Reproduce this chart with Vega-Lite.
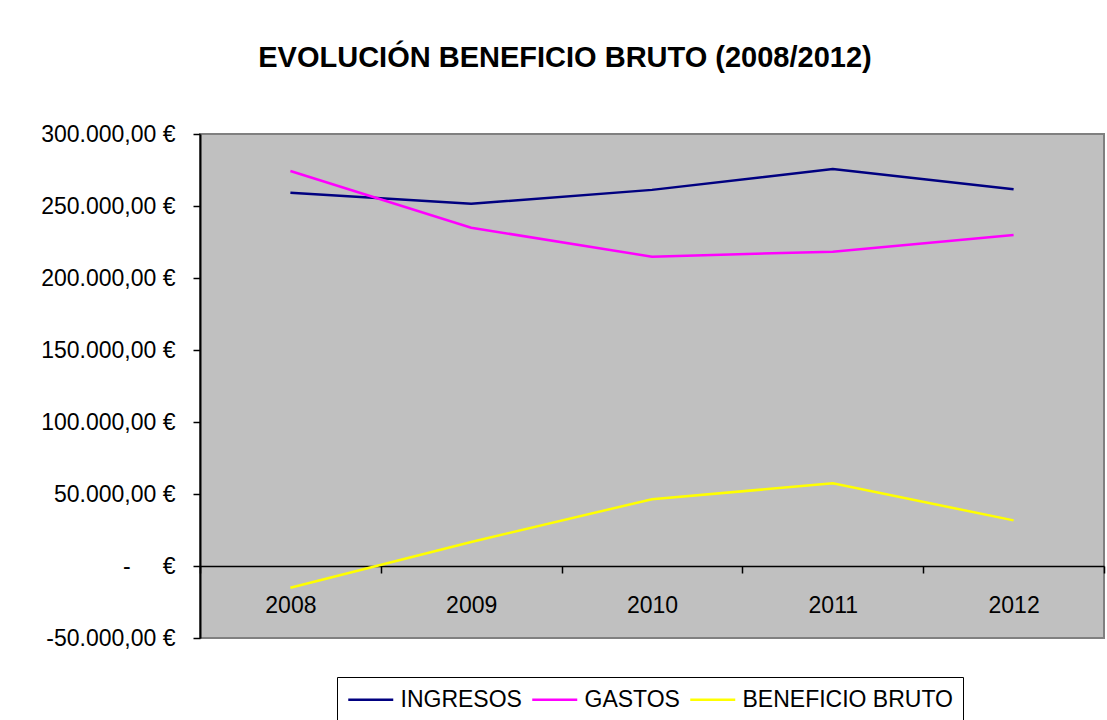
{
  "$schema": "https://vega.github.io/schema/vega-lite/v6.json",
  "width": 904,
  "height": 504,
  "autosize": {"type": "none"},
  "padding": {"left": 200, "top": 134, "right": 3, "bottom": 82},
  "background": "white",
  "title": {
    "text": "EVOLUCIÓN BENEFICIO BRUTO (2008/2012)",
    "fontSize": 29,
    "font": "Liberation Sans",
    "fontWeight": "bold",
    "color": "black",
    "anchor": "middle",
    "dx": -87,
    "offset": 50
  },
  "data": {
    "values": [
      {"year": "2008", "serie": "INGRESOS", "valor": 259200},
      {"year": "2009", "serie": "INGRESOS", "valor": 251600},
      {"year": "2010", "serie": "INGRESOS", "valor": 261200},
      {"year": "2011", "serie": "INGRESOS", "valor": 275700},
      {"year": "2012", "serie": "INGRESOS", "valor": 261600},
      {"year": "2008", "serie": "GASTOS", "valor": 274300},
      {"year": "2009", "serie": "GASTOS", "valor": 234900},
      {"year": "2010", "serie": "GASTOS", "valor": 214800},
      {"year": "2011", "serie": "GASTOS", "valor": 218300},
      {"year": "2012", "serie": "GASTOS", "valor": 229900},
      {"year": "2008", "serie": "BENEFICIO BRUTO", "valor": -15100},
      {"year": "2009", "serie": "BENEFICIO BRUTO", "valor": 16700},
      {"year": "2010", "serie": "BENEFICIO BRUTO", "valor": 46400},
      {"year": "2011", "serie": "BENEFICIO BRUTO", "valor": 57400},
      {"year": "2012", "serie": "BENEFICIO BRUTO", "valor": 31700}
    ]
  },
  "mark": {"type": "line", "strokeWidth": 2.5},
  "encoding": {
    "x": {
      "field": "year",
      "type": "ordinal",
      "bandPosition": 0.5,
      "scale": {"type": "band", "paddingInner": 0, "paddingOuter": 0},
      "axis": {
        "title": null,
        "offset": -72,
        "tickBand": "extent",
        "domainColor": "black",
        "domainWidth": 1.5,
        "tickColor": "black",
        "tickWidth": 1.5,
        "tickSize": 7,
        "labelFont": "Liberation Sans",
        "labelFontSize": 23,
        "labelColor": "black",
        "labelPadding": 21,
        "labelAngle": 0,
        "grid": false
      }
    },
    "y": {
      "field": "valor",
      "type": "quantitative",
      "scale": {"domain": [-50000, 300000], "nice": false, "zero": false},
      "axis": {
        "title": null,
        "values": [-50000, 0, 50000, 100000, 150000, 200000, 250000, 300000],
        "labelExpr": "datum.value == 0 ? '-\u00a0\u00a0\u00a0\u00a0\u00a0€' : replace(replace(replace(replace(format(datum.value, ',.2f'), ',', '#'), '.', ','), '#', '.'), '\u2212', '-') + ' €'",
        "domainColor": "black",
        "domainWidth": 2,
        "tickColor": "black",
        "tickWidth": 1.5,
        "tickSize": 7,
        "labelFont": "Liberation Sans",
        "labelFontSize": 23,
        "labelColor": "black",
        "labelPadding": 18,
        "grid": false
      }
    },
    "color": {
      "field": "serie",
      "type": "nominal",
      "scale": {
        "domain": ["INGRESOS", "GASTOS", "BENEFICIO BRUTO"],
        "range": ["#000080", "#FF00FF", "#FFFF00"]
      },
      "legend": {
        "orient": "none",
        "legendX": 137,
        "legendY": 543,
        "direction": "horizontal",
        "title": null,
        "symbolType": "M-1,0L3,0",
        "symbolSize": 506.25,
        "symbolStrokeWidth": 2.5,
        "labelFont": "Liberation Sans",
        "labelFontSize": 23,
        "labelColor": "black",
        "labelLimit": 400,
        "labelOffset": 28.5,
        "columnPadding": 5,
        "padding": 10,
        "strokeColor": "black",
        "fillColor": "white"
      }
    }
  },
  "config": {
    "view": {"fill": "#C0C0C0", "stroke": "#808080", "strokeWidth": 2},
    "font": "Liberation Sans"
  }
}
